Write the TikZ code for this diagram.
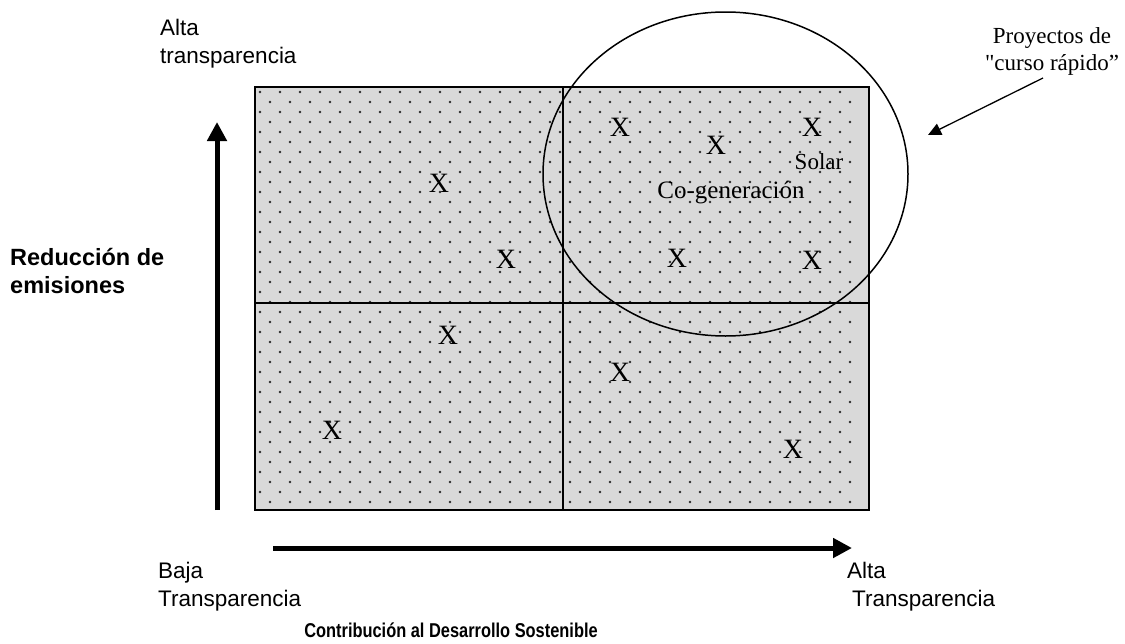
\documentclass[tikz,border=0pt]{standalone}
\usepackage{fontspec}
\setmainfont{Liberation Serif}
\setsansfont{Liberation Sans}
\newfontfamily\rawserif{Liberation Serif}
\newfontfamily\narrowsans{Liberation Sans}[FakeStretch=0.82]
\usetikzlibrary{arrows.meta}
\definecolor{fillgray}{HTML}{D9D9D9}
\definecolor{dotgray}{HTML}{2A2A2A}
\begin{document}
\begin{tikzpicture}[x=1pt,y=-1pt,
  sanslbl/.style={inner sep=0pt,anchor=base west,font=\sffamily\fontsize{22.5}{26}\selectfont},
  boldlbl/.style={inner sep=0pt,anchor=base west,font=\sffamily\bfseries\fontsize{23.5}{27}\selectfont},
  xmark/.style={inner sep=0pt,font=\rmfamily\fontsize{28}{30}\selectfont},
  serlbl/.style={inner sep=0pt,font=\rmfamily\fontsize{23}{25}\selectfont},
  axisarrow/.style={line width=5pt,-{Triangle[width=19pt,length=19pt]}},
  frame/.style={line width=1.5pt,draw=black}]
\useasboundingbox (0,0) rectangle (1125,643);
% background box
\fill[fillgray] (255,87) rectangle (869,510);
\foreach \r in {0,...,41}{
  \foreach \c in {0,...,29}{
    \pgfmathsetmacro{\yy}{92+10*\r}
    \pgfmathsetmacro{\xx}{260+10*mod(\r,2)+20*\c}
    \fill[dotgray] (\xx,\yy) circle[radius=1.3pt];
  }
}
\draw[frame] (255,87) rectangle (869,510);
\draw[frame] (563,87) -- (563,510);
\draw[frame] (255,303) -- (869,303);
% ellipse
\draw[line width=1.5pt] (725.5,174) ellipse [x radius=182.5pt, y radius=162pt];
% marks
\node[xmark] (x1) at (439,183) {X};
\node[xmark] (x2) at (506,259) {X};
\node[xmark] (x3) at (448,335) {X};
\node[xmark] (x4) at (332,430) {X};
\node[xmark] (x5) at (620,127) {X};
\node[xmark] (x6) at (716,145) {X};
\node[xmark] (x7) at (812,127) {X};
\node[xmark] (x8) at (677,258) {X};
\node[xmark] (x9) at (812,260) {X};
\node[xmark] (x10) at (620,372) {X};
\node[xmark] (x11) at (793,449) {X};
\node[serlbl] (solar) at (819,162) {Solar};
\node[xmark,font=\rmfamily\fontsize{25}{27}\selectfont] (cogen) at (731,193) {Co-generación};
% axis arrows
\coordinate (vstart) at (217,510);
\coordinate (vend) at (217,122);
\coordinate (hstart) at (273,548);
\coordinate (hend) at (852,548);
\draw[axisarrow] (vstart) -- (vend);
\draw[axisarrow] (hstart) -- (hend);
% labels
\node[sanslbl] (alta1) at (160,35) {Alta};
\node[sanslbl] (transp1) at (160,63) {transparencia};
\node[boldlbl] (red1) at (10,265) {Reducción de};
\node[boldlbl] (red2) at (10,293) {emisiones};
\node[sanslbl] (baja) at (158,578) {Baja};
\node[sanslbl] (transp2) at (158,606) {Transparencia};
\node[sanslbl] (alta2) at (847,578) {Alta};
\node[sanslbl] (transp3) at (852,606) {Transparencia};
\node[inner sep=0pt,anchor=base,font=\narrowsans\bfseries\fontsize{20}{24}\selectfont] (contrib) at (451,637) {Contribución al Desarrollo Sostenible};
% callout
\node[serlbl,anchor=base] (proy1) at (1052,43) {Proyectos de};
\node[serlbl,anchor=base,font=\rawserif\fontsize{23}{25}\selectfont] (proy2) at (1052,70) {"curso rápido”};
\coordinate (ptail) at (1043,78);
\coordinate (phead) at (928,135);
\draw[line width=1.3pt,-{Triangle[width=12pt,length=13pt]}] (ptail) -- (phead);
\end{tikzpicture}
\end{document}
